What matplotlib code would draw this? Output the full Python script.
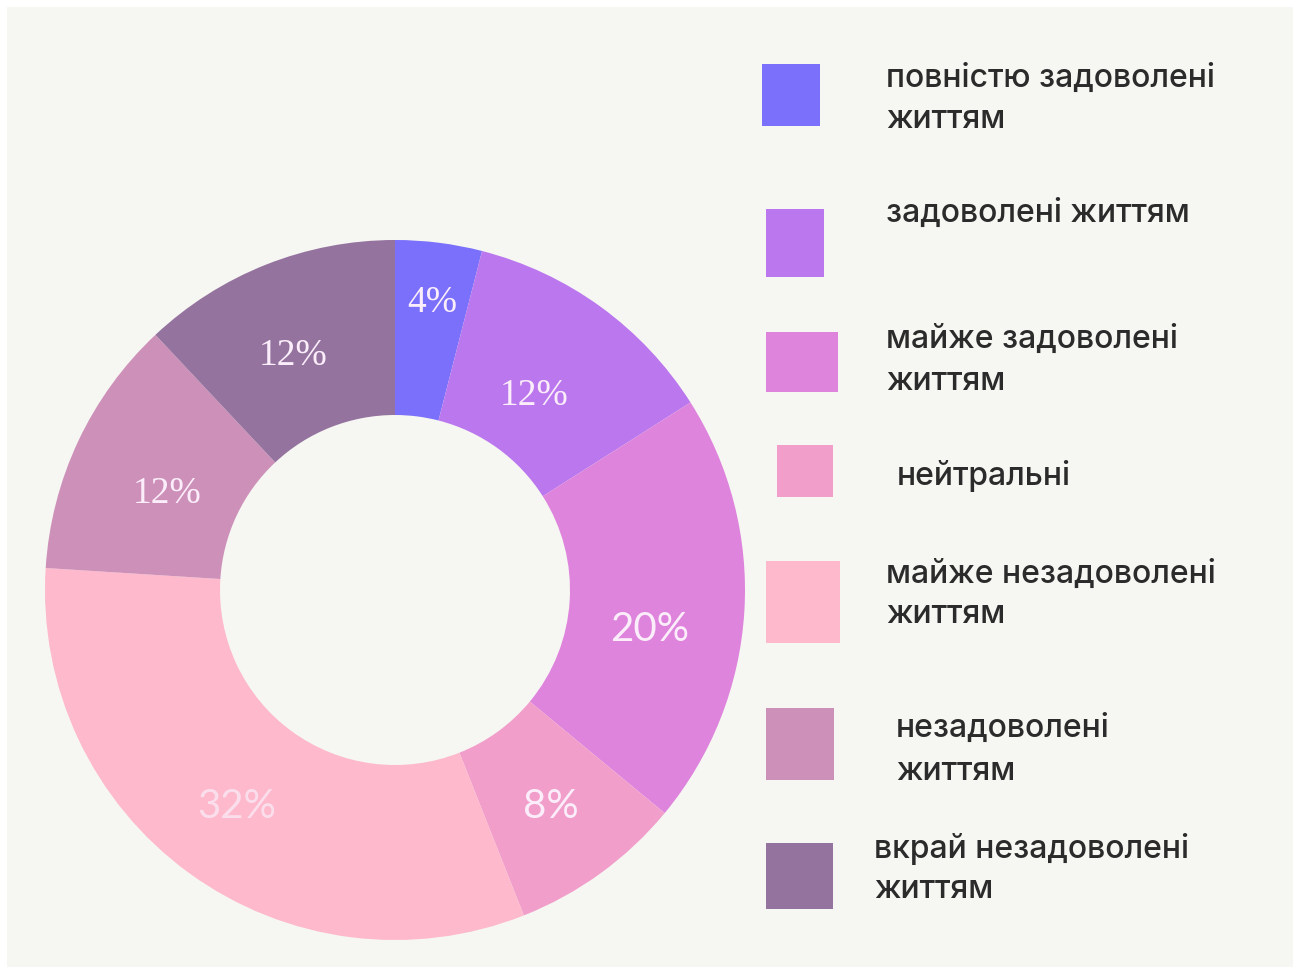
import matplotlib.pyplot as plt
from matplotlib.patches import Rectangle

# data
categories = [
    "повністю задоволені\nжиттям",
    "задоволені життям",
    "майже задоволені\nжиттям",
    "нейтральні",
    "майже незадоволені\nжиттям",
    "незадоволені\nжиттям",
    "вкрай незадоволені\nжиттям",
]
shares = [4, 12, 20, 8, 32, 12, 12]
colors = ["#7a70fb", "#bb77ee", "#de84dd", "#f29ecb", "#feb9cc", "#cd90b9", "#94739f"]

W, H = 1299, 970
BG = "#f6f6f2"

fig = plt.figure(figsize=(W / 100, H / 100), dpi=100)
fig.patch.set_facecolor("white")
fig.patches.append(Rectangle((7 / W, 1 - 968 / H), (1293 - 7) / W, (968 - 8) / H,
                             transform=fig.transFigure, facecolor=BG, edgecolor="none", zorder=-5))


def px_axes(cx, cy, r):
    return [(cx - r) / W, 1 - (cy + r) / H, 2 * r / W, 2 * r / H]


R_PX = 350
ax = fig.add_axes(px_axes(395, 591, R_PX))
ax.set_zorder(2)
ax.set_facecolor("none")
wedges, texts, autotexts = ax.pie(
    shares, colors=colors, startangle=90, counterclock=False,
    radius=1, wedgeprops=dict(width=0.5, edgecolor="none"),
    autopct=lambda p: f"{p:.0f}%", pctdistance=0.74,
)
ax.set_xlim(-1, 1)
ax.set_ylim(-1, 1)
ax.set_aspect("equal")
ax.axis("off")

serif_idx = {0, 1, 5, 6}
# small hand nudges (pixels, x right / y down) so labels sit where the original put them
nudges = [(0, 3), (-13, 14), (-4, 22), (4, 6), (-6, 6), (6, 13), (-7, 6)]
x, y = autotexts[0].get_position()
autotexts[0].set_position((x * 0.84 / 0.74, y * 0.84 / 0.74))
for i, t in enumerate(autotexts):
    t.set_color("#fbeefa")
    if i in serif_idx:
        t.set_family("Liberation Serif")
        t.set_fontsize(27)
    else:
        t.set_family("Lato")
        t.set_fontsize(29)
    if i == 4:
        t.set_alpha(0.7)
    x, y = t.get_position()
    dx, dy = nudges[i]
    t.set_position((x + dx / R_PX, y - dy / R_PX))

# legend drawn by hand (pixel layout, y measured from top)
boxes = [(762, 65, 58, 62), (766, 210, 58, 68), (766, 333, 72, 60), (777, 446, 56, 52),
         (766, 562, 74, 82), (766, 709, 68, 72), (766, 844, 67, 66)]
text_x = [886, 886, 886, 897, 886, 896, 874]
baselines = [(87, 128), (222,), (348, 390), (485,), (583, 623), (737, 780), (858, 898)]

for (bx, by, bw, bh), c in zip(boxes, colors):
    fig.patches.append(Rectangle((bx / W, 1 - (by + bh) / H), bw / W, bh / H,
                                 transform=fig.transFigure, facecolor=c, edgecolor="none"))

for label, tx, bl in zip(categories, text_x, baselines):
    for line, yb in zip(label.split("\n"), bl):
        fig.text(tx / W, 1 - yb / H, line, fontsize=23, family="Inter", weight="medium",
                 color="#2b2b2b", va="baseline", ha="left")

fig.savefig("out.png", dpi=100, facecolor=fig.get_facecolor())
